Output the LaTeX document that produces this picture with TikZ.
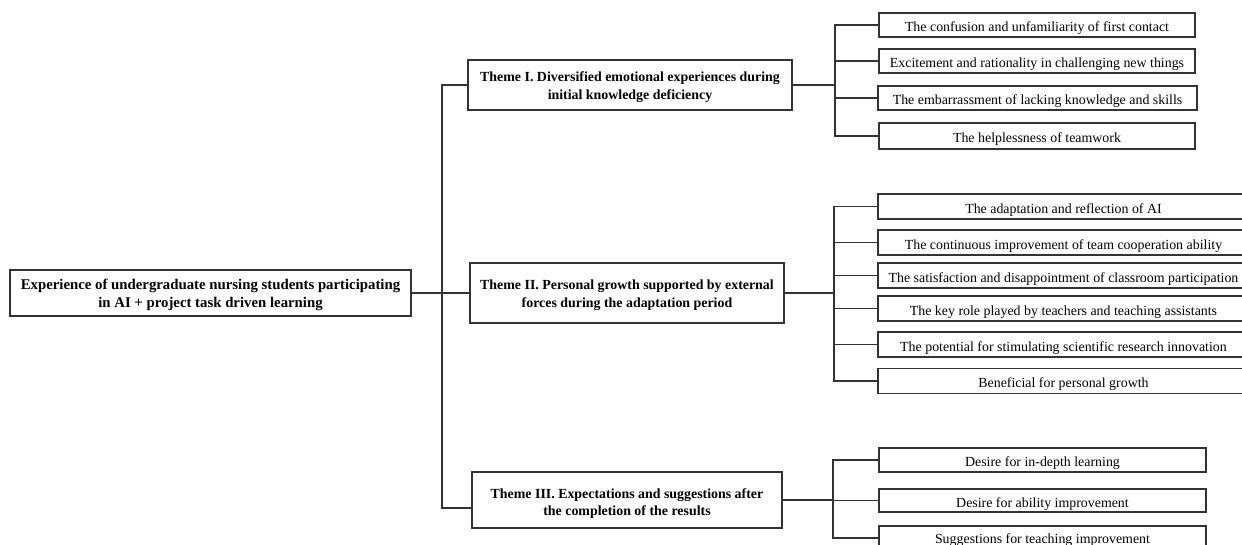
\documentclass[tikz,border=0pt]{standalone}
\usepackage{fontspec}
\setmainfont{Liberation Serif}
\newcommand{\topstrut}[1]{\rule{0pt}{#1}}
\begin{document}
\begin{tikzpicture}[x=1pt,y=-1pt,
  box/.style={draw=black!80, line width=1.3pt, rectangle, inner sep=0pt, align=center},
  theme/.style={box, font=\fontsize{13.9}{17.5}\selectfont\bfseries},
  leaf/.style={box, font=\fontsize{13.9}{16}\selectfont, minimum height=24pt, text height=13.5pt, text depth=0pt},
  conn/.style={draw=black!80, line width=1.2pt}]
\useasboundingbox (0,0) rectangle (1242,544);
\clip (0,0) rectangle (1242,544);
% root and themes
\node[theme, minimum width=401pt, minimum height=46pt, font=\fontsize{14.8}{18}\selectfont\bfseries] (root) at (210.5,293) {\topstrut{15.2pt}Experience of undergraduate nursing students participating\\in AI + project task driven learning};
\node[theme, minimum width=324pt, minimum height=50pt] (t1) at (630,85) {\topstrut{14.5pt}Theme I. Diversified emotional experiences during\\initial knowledge deficiency};
\node[theme, minimum width=314pt, minimum height=60pt] (t2) at (627,293) {\topstrut{14.5pt}Theme II. Personal growth supported by external\\forces during the adaptation period};
\node[theme, minimum width=310pt, minimum height=56pt] (t3) at (627,500) {\topstrut{16.5pt}Theme III. Expectations and suggestions after\\the completion of the results};
% theme I leaves
\node[leaf, minimum width=316pt] (a1) at (1037,25) {The confusion and unfamiliarity of first contact};
\node[leaf, minimum width=316pt] (a2) at (1037,61) {Excitement and rationality in challenging new things};
\node[leaf, minimum width=319pt] (a3) at (1037.5,98) {The embarrassment of lacking knowledge and skills};
\node[leaf, minimum width=316pt, minimum height=26pt] (a4) at (1037,136) {The helplessness of teamwork};
% theme II leaves
\node[leaf, minimum width=368pt, minimum height=25pt] (b1) at (1062,206.5) {\hspace*{3pt}The adaptation and reflection of AI};
\node[leaf, minimum width=368pt, minimum height=25pt] (b2) at (1062,242.5) {\hspace*{3pt}The continuous improvement of team cooperation ability};
\node[leaf, minimum width=368pt, minimum height=25pt] (b3) at (1062,275.5) {\hspace*{3pt}The satisfaction and disappointment of classroom participation};
\node[leaf, minimum width=368pt, minimum height=25pt] (b4) at (1062,308.5) {\hspace*{3pt}The key role played by teachers and teaching assistants};
\node[leaf, minimum width=368pt, minimum height=25pt] (b5) at (1062,344.5) {\hspace*{3pt}The potential for stimulating scientific research innovation};
\node[leaf, minimum width=368pt, minimum height=25pt] (b6) at (1062,381) {\hspace*{3pt}Beneficial for personal growth};
% theme III leaves
\node[leaf, minimum width=327pt] (c1) at (1042.5,460) {Desire for in-depth learning};
\node[leaf, minimum width=327pt, minimum height=23pt] (c2) at (1042.5,500.5) {Desire for ability improvement};
\node[leaf, minimum width=327pt, text height=11pt] (c3) at (1042.5,538) {Suggestions for teaching improvement};
% junctions
\coordinate (tk) at (442,293);
\coordinate (ja) at (835,85);
\coordinate (jb) at (834,293);
\coordinate (jc) at (833,500);
% trunk
\draw[conn] (root.east) -- (t2.west);
\draw[conn] (t1.west) -| (tk);
\draw[conn] (tk) |- ([yshift=-8pt]t3.west);
% theme I branch
\draw[conn] (t1.east) -- (ja);
\draw[conn] (a1.west) -| (ja) |- (a4.west);
\draw[conn] (a2.west) -- (a2.west -| ja);
\draw[conn] (a3.west) -- (a3.west -| ja);
% theme II branch
\draw[conn] (t2.east) -- (jb);
\draw[conn] (b1.west) -| (jb) |- (b6.west);
\draw[conn] (b2.west) -- (b2.west -| jb);
\draw[conn] (b3.west) -- (b3.west -| jb);
\draw[conn] (b4.west) -- (b4.west -| jb);
\draw[conn] (b5.west) -- (b5.west -| jb);
% theme III branch
\draw[conn] (t3.east) -- (jc);
\draw[conn] (c1.west) -| (jc) |- (c3.west);
\draw[conn] (c2.west) -- (c2.west -| jc);
\end{tikzpicture}
\end{document}
